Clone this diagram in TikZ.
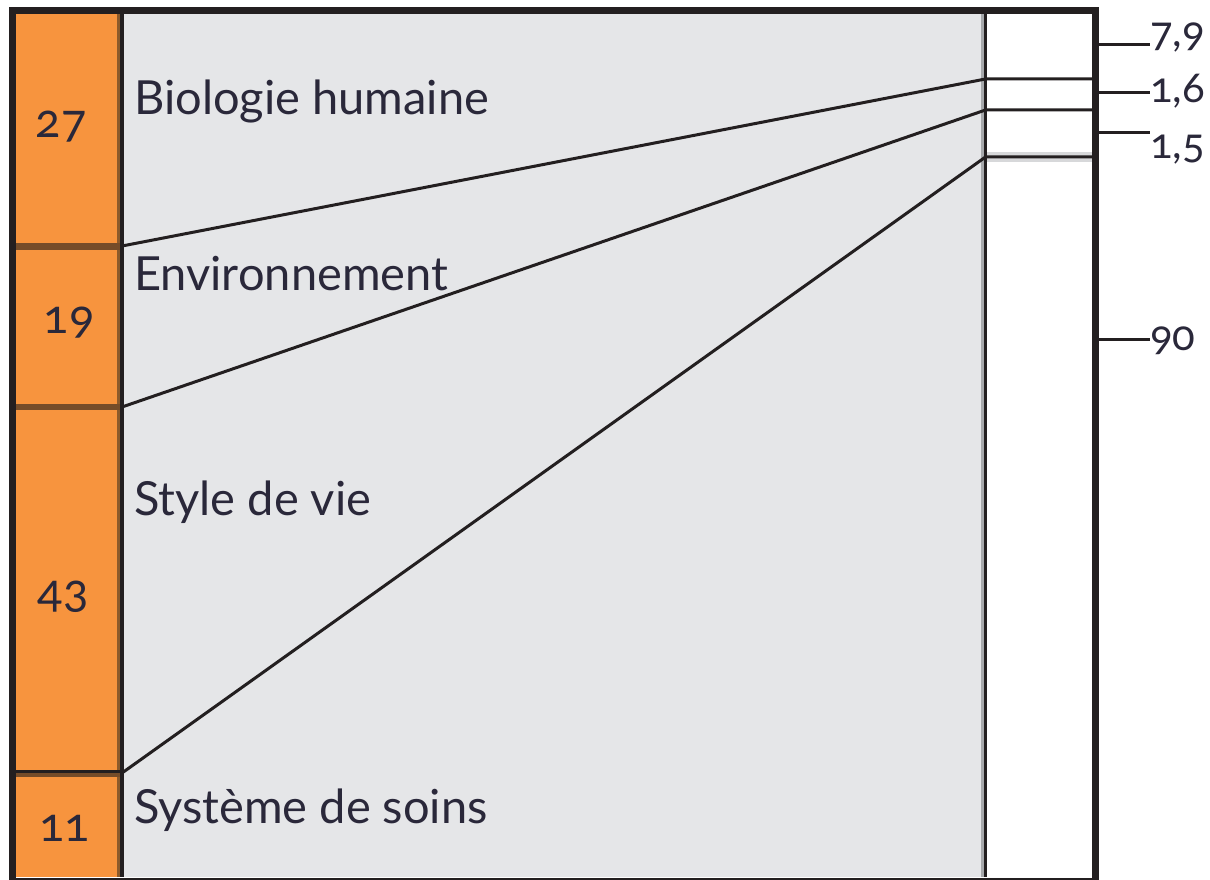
\documentclass[tikz,border=0pt]{standalone}
\usepackage{fontspec}
\setmainfont[Numbers=OldStyle]{Lato}
\definecolor{frameC}{HTML}{231F20}
\definecolor{orangeF}{HTML}{F7943E}
\definecolor{brownD}{HTML}{754C29}
\definecolor{brownV}{HTML}{8B5A2B}
\definecolor{grayF}{HTML}{E5E6E8}
\definecolor{grayL}{HTML}{A7A9AC}
\definecolor{textC}{HTML}{2A283A}
\begin{document}
\begin{tikzpicture}[x=1pt,y=-1pt,
  lab/.style={text=textC, inner sep=0pt, font=\fontsize{47}{52}\selectfont},
  num/.style={text=textC, inner sep=0pt, font=\fontsize{47}{52}\selectfont},
  rnum/.style={text=textC, inner sep=0pt, font=\fontsize{42}{48}\selectfont},
  conn/.style={draw=frameC, line width=3pt},
  tick/.style={draw=frameC, line width=3pt}]
\useasboundingbox (0,0) rectangle (1210,880);
\fill[white] (0,0) rectangle (1210,880);
% columns
\fill[orangeF] (16,14) rectangle (117,877);
\fill[brownV] (117,14) rectangle (120,877);
\fill[grayF] (124,14) rectangle (981,877);
\fill[grayL] (981,14) rectangle (984,877);
\fill[grayL!45] (987,152) rectangle (1092,162);
% dividers in orange column
\fill[brownD] (16,243) rectangle (120,250);
\fill[brownD] (16,404) rectangle (120,410);
\fill[frameC] (16,770) rectangle (120,773);
\fill[brownD] (16,773) rectangle (120,777);
% vertical lines
\coordinate (lt) at (122,14); \coordinate (lb) at (122,877);
\coordinate (rt) at (985.5,14); \coordinate (rb) at (985.5,877);
\draw[frameC, line width=3.5pt] (lt) -- (lb);
\draw[frameC, line width=3pt] (rt) -- (rb);
% connectors
\coordinate (a1) at (122,246); \coordinate (c1) at (985.5,79); \coordinate (e1) at (1092,79);
\coordinate (a2) at (122,407); \coordinate (c2) at (985.5,110); \coordinate (e2) at (1092,110);
\coordinate (a3) at (122,773); \coordinate (c3) at (985.5,157); \coordinate (e3) at (1092,157);
\draw[conn] (a1) -- (c1) -- (e1);
\draw[conn] (a2) -- (c2) -- (e2);
\draw[conn] (a3) -- (c3) -- (e3);
% frame
\draw[frameC, line width=7pt] (12.5,10.5) rectangle (1095.5,881);
% ticks and right labels
\node[rnum, anchor=base west] (v79) at (1150,47) {7,9};
\node[rnum, anchor=base west] (v16) at (1150,103) {1,6};
\node[rnum, anchor=base west] (v15) at (1150,158) {1,5};
\node[rnum, anchor=base west] (v90) at (1150,350) {90};
\coordinate (t1) at (1099,45); \coordinate (t2) at (1099,93);
\coordinate (t3) at (1099,133); \coordinate (t4) at (1099,339);
\draw[tick] (t1) -- (t1 -| v79.west);
\draw[tick] (t2) -- (t2 -| v16.west);
\draw[tick] (t3) -- (t3 -| v15.west);
\draw[tick] (t4) -- (t4 -| v90.west);
% left labels
\node[lab, anchor=base west] (tbio) at (134,115) {Biologie humaine};
\node[lab, anchor=base west] (tenv) at (134,290) {Environnement};
\node[lab, anchor=base west] (tsty) at (134,515) {Style de vie};
\node[lab, anchor=base west] (tsys) at (134,823) {Système de soins};
% orange numbers
\node[num, anchor=base] (n27) at (61,138) {27};
\node[num, anchor=base] (n19) at (69,333) {19};
\node[num, anchor=base] (n43) at (63,607) {43};
\node[num, anchor=base] (n11) at (64.5,841) {11};
\end{tikzpicture}
\end{document}
